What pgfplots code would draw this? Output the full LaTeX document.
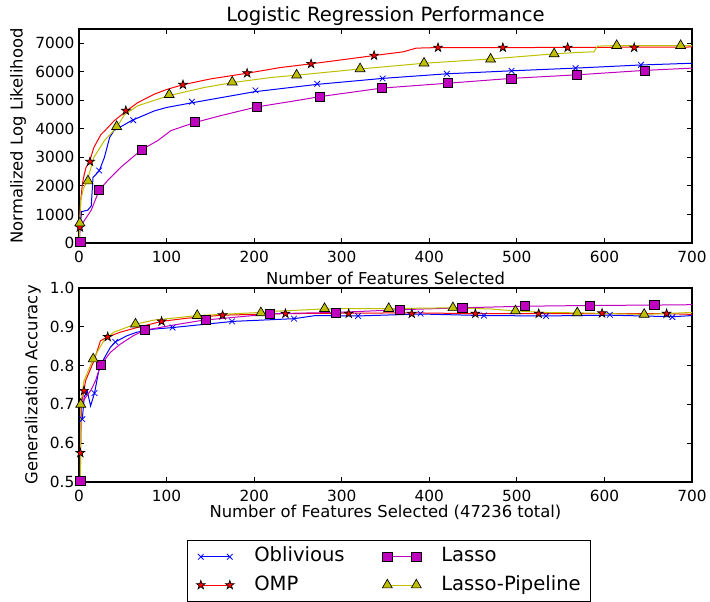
\documentclass[border=0pt]{standalone}
\usepackage{fontspec}
\setmainfont{DejaVu Sans}
\usepackage{pgfplots}
\pgfplotsset{compat=1.18}

\definecolor{mplb}{HTML}{0000FF}
\definecolor{mplr}{HTML}{FF0000}
\definecolor{mplm}{HTML}{BF00BF}
\definecolor{mply}{HTML}{BFBF00}

% filled five-pointed star, like matplotlib's '*'
\pgfdeclareplotmark{fstar}{%
  \pgfpathmoveto{\pgfpointpolar{90}{\pgfplotmarksize}}%
  \pgfpathlineto{\pgfpointpolar{126}{0.382\pgfplotmarksize}}%
  \pgfpathlineto{\pgfpointpolar{162}{\pgfplotmarksize}}%
  \pgfpathlineto{\pgfpointpolar{198}{0.382\pgfplotmarksize}}%
  \pgfpathlineto{\pgfpointpolar{234}{\pgfplotmarksize}}%
  \pgfpathlineto{\pgfpointpolar{270}{0.382\pgfplotmarksize}}%
  \pgfpathlineto{\pgfpointpolar{306}{\pgfplotmarksize}}%
  \pgfpathlineto{\pgfpointpolar{342}{0.382\pgfplotmarksize}}%
  \pgfpathlineto{\pgfpointpolar{18}{\pgfplotmarksize}}%
  \pgfpathlineto{\pgfpointpolar{54}{0.382\pgfplotmarksize}}%
  \pgfpathclose
  \pgfusepathqfillstroke}

\pgfplotsset{
  obl/.style={mplb, line width=0.75pt},
  omp/.style={mplr, line width=0.75pt},
  las/.style={mplm, line width=0.75pt},
  pip/.style={mply, line width=0.75pt},
  oblmk/.style={mark=x, mark size=3pt, mark options={mplb, line width=0.6pt}},
  ompmk/.style={mark=fstar, mark size=3.5pt, mark options={draw=black, fill=mplr, line width=0.5pt}},
  lasmk/.style={mark=square*, mark size=3.4pt, mark options={draw=black, fill=mplm, line width=0.5pt}},
  pipmk/.style={mark=triangle*, mark size=4.3pt, mark options={draw=black, fill=mply, line width=0.5pt}},
  myax/.style={
    scale only axis, width=459.75pt,
    xmin=0, xmax=700, xtick={0,100,...,700},
    axis line style={line width=0.8pt},
    every tick/.style={black, line width=0.75pt},
    major tick length=3.75pt,
    tick label style={font=\fontsize{11.5}{13}\selectfont},
    label style={font=\fontsize{12.3}{14}\selectfont},
    /pgf/number format/assume math mode=true,
    xticklabel style={anchor=base, yshift=-14.3pt},
    scaled ticks=false,
  },
}

\begin{document}
\begin{tikzpicture}
\begin{axis}[myax, name=top, height=160.5pt,
  ymin=0, ymax=7500, ytick={0,1000,...,7000},
  yticklabel style={/pgf/number format/1000 sep={}},
  title={Logistic Regression Performance},
  title style={font=\fontsize{14.7}{17}\selectfont, at={(0.5,1)}, anchor=base, yshift=-0.3pt, inner sep=0pt},
  xlabel={Number of Features Selected},
  xlabel style={at={(0.5,0)}, anchor=base, yshift=-31pt, inner sep=0pt},
  ylabel={Normalized Log Likelihood},
]
% Oblivious
\addplot[obl, forget plot] coordinates {(0.5,200)(1,500)(3,1100)(10,1150)(14,1300)(16,2300)(23,2520)(29,3000)(35,3700)(40,3940)(60,4290)(86,4630)(100,4750)(130,4920)(200,5300)(272,5560)(347,5770)(420,5930)(494,6035)(567,6130)(642,6240)(700,6300)};
\addplot[only marks, oblmk, forget plot] coordinates {(1,570)(23,2540)(62,4300)(129,4953)(201.5,5349)(272,5581)(346.7,5767)(420,5930)(494,6035)(567,6128)(641.7,6244)};
% OMP
\addplot[omp, forget plot] coordinates {(0.5,300)(1,700)(2,1500)(4,2100)(6,2400)(8,2650)(12,2850)(17,3350)(25,3800)(30,3950)(40,4280)(53,4600)(67,4920)(86,5215)(100,5380)(119,5550)(150,5750)(192,5950)(230,6150)(265,6280)(300,6420)(337,6570)(370,6700)(385,6830)(410,6850)(500,6850)(600,6860)(700,6870)};
\addplot[only marks, ompmk, forget plot] coordinates {(1,550)(12.6,2850)(53.5,4640)(118.7,5547)(192,5953)(265,6279)(337,6570)(410,6849)(484,6849)(558,6849)(634,6849)};
% Lasso
\addplot[las, forget plot] coordinates {(0.5,100)(1,500)(4,690)(14,1150)(23,1850)(33,2200)(48,2660)(71,3260)(90,3590)(105,3940)(132,4220)(160,4450)(203,4770)(240,4950)(275,5130)(346,5430)(421,5600)(494,5770)(569,5895)(646,6050)(700,6130)};
\addplot[only marks, lasmk, forget plot] coordinates {(1.5,30)(23,1860)(71.7,3279)(132,4233)(202.9,4767)(274.5,5128)(345.7,5430)(420.7,5605)(493.7,5767)(569,5895)(646,6047)};
% Lasso-Pipeline
\addplot[pip, forget plot] coordinates {(0.5,200)(1,900)(2,1500)(5,1900)(9,2140)(17,3000)(29,3590)(43,4050)(52,4500)(67,4810)(102,5160)(143,5450)(175,5620)(219,5800)(248,5880)(321,6100)(394,6300)(470,6450)(543,6630)(570,6680)(588,6700)(592,6900)(614,6920)(700,6920)};
\addplot[only marks, pipmk, forget plot] coordinates {(1,700)(10.2,2174)(43,4080)(103,5198)(175,5640)(248.5,5884)(321,6105)(394,6302)(470,6442)(542.6,6628)(614,6919)(687,6919)};
\end{axis}

\begin{axis}[myax, at={(0,-33.75pt)}, anchor=north west, height=145.5pt,
  ymin=0.5, ymax=1.0, ytick={0.5,0.6,...,1.0},
  yticklabel style={/pgf/number format/.cd, fixed, fixed zerofill, precision=1},
  xlabel={Number of Features Selected (47236 total)},
  xlabel style={at={(0.5,0)}, anchor=base, yshift=-26.7pt, inner sep=0pt},
  ylabel={Generalization Accuracy},
  legend columns=2,
  legend cell align=left,
  legend image code/.code={\draw[#1] plot coordinates {(0pt,0pt) (21.75pt,0pt)};},
  legend style={at={(0.505,0)}, anchor=north, yshift=-43.5pt,
    draw=black, line width=0.75pt, fill=white,
    font=\fontsize{14.7}{17}\selectfont,
    inner xsep=7pt, inner ysep=5.3pt, row sep=7.4pt, column sep=15pt,
    nodes={inner sep=0pt, text height=10.7pt, text depth=3.1pt},
    /tikz/every even column/.append style={column sep=28.25pt}},
]
\addlegendimage{obl, oblmk}
\addlegendentry{Oblivious}
\addlegendimage{las, lasmk}
\addlegendentry{Lasso}
\addlegendimage{omp, ompmk}
\addlegendentry{OMP}
\addlegendimage{pip, pipmk}
\addlegendentry{Lasso-Pipeline}
% Oblivious
\addplot[obl, forget plot] coordinates {(3.8,0.662)(6,0.72)(9.4,0.735)(13.2,0.696)(17.7,0.729)(22.6,0.787)(28.3,0.817)(35.8,0.847)(41.5,0.861)(54.7,0.877)(66,0.886)(84.9,0.894)(106.8,0.898)(150,0.908)(176,0.914)(246,0.921)(270,0.929)(318.7,0.928)(390,0.933)(462,0.929)(533,0.928)(606,0.930)(678,0.926)(700,0.929)};
\addplot[only marks, oblmk, forget plot] coordinates {(3.8,0.662)(17.7,0.729)(41.5,0.861)(106.8,0.898)(174.7,0.914)(245.5,0.921)(318.7,0.928)(390,0.934)(462.4,0.929)(533.4,0.928)(606.2,0.931)(677.6,0.925)};
% OMP
\addplot[omp, forget plot] coordinates {(1.5,0.57)(2.5,0.70)(5.7,0.735)(7.5,0.761)(17,0.812)(24.5,0.864)(32.8,0.874)(47,0.886)(66,0.898)(94.3,0.914)(122.6,0.922)(164,0.930)(236,0.934)(300,0.935)(380,0.936)(450,0.934)(525,0.934)(600,0.934)(671,0.934)(700,0.932)};
\addplot[only marks, ompmk, forget plot] coordinates {(1.5,0.575)(5.7,0.735)(32.8,0.874)(94.3,0.914)(164,0.930)(235.7,0.934)(308,0.934)(380,0.934)(452.6,0.934)(525,0.934)(597.3,0.935)(671,0.934)};
% Lasso
\addplot[las, forget plot] coordinates {(1.5,0.503)(2.5,0.70)(8,0.72)(13.2,0.735)(18.9,0.761)(24.5,0.80)(35.8,0.834)(47,0.855)(62,0.877)(74.7,0.891)(103.8,0.903)(141.5,0.917)(223,0.934)(293,0.937)(367,0.944)(437,0.949)(508,0.953)(583,0.955)(657,0.956)(700,0.957)};
\addplot[only marks, lasmk, forget plot] coordinates {(1.5,0.503)(24.5,0.801)(74.7,0.891)(145.3,0.917)(217.5,0.934)(293,0.937)(366.8,0.944)(437.7,0.949)(508.6,0.953)(583.3,0.955)(657,0.956)};
% Lasso-Pipeline
\addplot[pip, forget plot] coordinates {(1.5,0.5)(2,0.70)(5.7,0.761)(16.2,0.817)(28.3,0.864)(39.6,0.886)(64.5,0.907)(84.9,0.917)(135,0.929)(207,0.937)(223,0.94)(280,0.946)(316,0.947)(354,0.947)(427,0.949)(470,0.946)(498,0.941)(530,0.937)(569,0.936)(645,0.932)(700,0.937)};
\addplot[only marks, pipmk, forget plot] coordinates {(2,0.70)(16.2,0.817)(64.5,0.907)(135,0.929)(207.7,0.936)(280.4,0.947)(353.7,0.947)(427,0.949)(498.4,0.941)(569,0.936)(645.4,0.932)};
\end{axis}
\pgfresetboundingbox
\useasboundingbox (-59.25pt,182.25pt) rectangle (473.25pt,-268.5pt);
\end{tikzpicture}
\end{document}
